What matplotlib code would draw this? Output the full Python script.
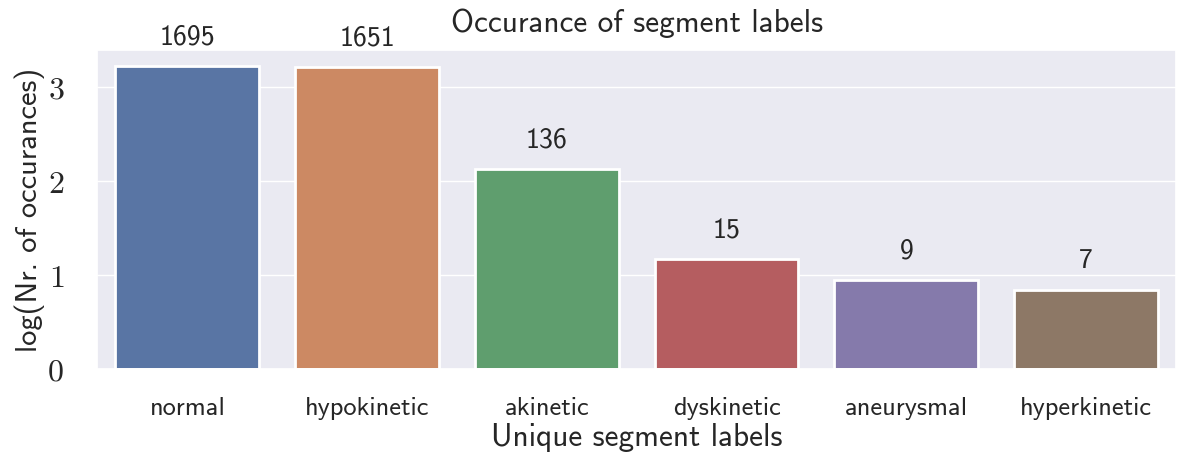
import numpy as np
import matplotlib
matplotlib.use("Agg")
import matplotlib.pyplot as plt
import seaborn as sns

labels = ["normal", "hypokinetic", "akinetic", "dyskinetic", "aneurysmal", "hyperkinetic"]
counts = [1695, 1651, 136, 15, 9, 7]
yticks = [0, 1, 2, 3]

sns.set_theme(style="darkgrid")
plt.rcParams["mathtext.fontset"] = "cm"
plt.rcParams["font.family"] = ["cmss10", "DejaVu Sans"]
plt.rcParams["axes.formatter.use_mathtext"] = True

log_counts = np.log10(counts)
colors = [sns.desaturate(c, 0.75) for c in sns.color_palette("deep", len(labels))]

fig, ax = plt.subplots(figsize=(11.89, 4.59), dpi=100)
x = np.arange(len(labels))
ax.bar(x, log_counts, width=0.8, color=colors, edgecolor="white", linewidth=2, zorder=2)
ax.set_xlim(-0.5, len(labels) - 0.5)
ax.grid(False, axis="x")

for xi, v, c in zip(x, log_counts, counts):
    ax.annotate(str(c), (xi, v), xytext=(0, 12), textcoords="offset points",
                ha="center", va="bottom", fontsize=20, color="#262626")

ax.set_xticks(x)
ax.set_xticklabels(labels, fontsize=19)
ax.set_yticks(yticks)
ax.set_yticklabels([f"${t}$" for t in yticks], fontsize=23)
ax.tick_params(axis="x", pad=14)
ax.tick_params(axis="y", pad=18)
ax.set_xlabel("Unique segment labels", fontsize=22.5, labelpad=2)
ax.set_ylabel("log(Nr. of occurances)", fontsize=22, labelpad=2)
ax.set_title("Occurance of segment labels", fontsize=22.5, pad=13)

plt.subplots_adjust(left=0.082, right=0.989, top=0.89, bottom=0.195)
plt.savefig("out.png", dpi=100)
